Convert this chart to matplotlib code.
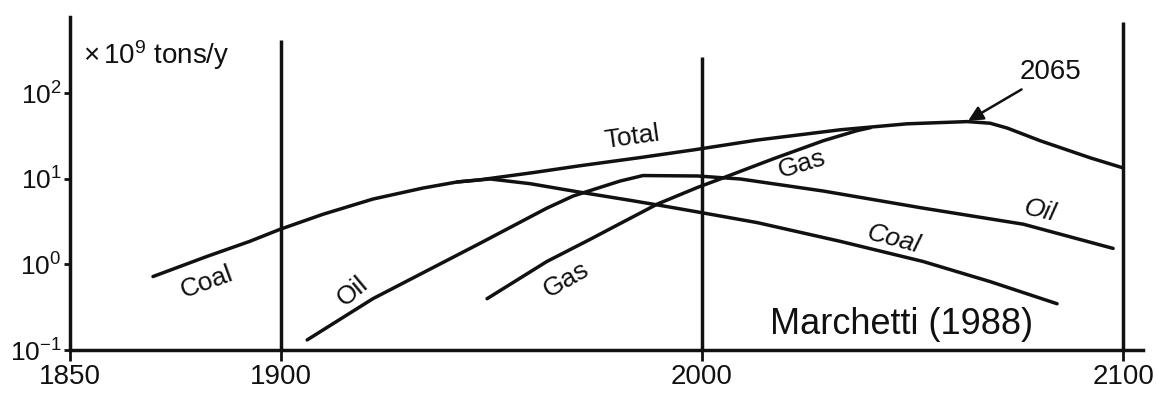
import matplotlib
matplotlib.use("Agg")
import matplotlib.pyplot as plt
import numpy as np

# ---- data (log10 of 10^9 tons/y) ----
coal_years = [1869.7, 1882.5, 1892.7, 1899.9, 1910.1, 1921.9, 1933.8, 1941.9, 1949.7,
              1959.2, 1971.1, 1983.0, 1990.8, 1998.9, 2013.1, 2032.8, 2052.5, 2068.4, 2084.3]
coal_log = [-0.141, 0.094, 0.271, 0.412, 0.588, 0.765, 0.894, 0.965, 1.0,
            0.945, 0.845, 0.75, 0.685, 0.615, 0.49, 0.271, 0.035, -0.20, -0.459]

oil_years = [1906.3, 1921.9, 1947.3, 1963.2, 1969.4, 1973.5, 1980.6, 1986.0, 1998.9,
             2009.1, 2028.8, 2052.5, 2076.3, 2097.6]
oil_log = [-0.882, -0.40, 0.247, 0.659, 0.80, 0.865, 0.976, 1.04, 1.035,
           1.0, 0.859, 0.659, 0.471, 0.188]

gas_years = [1949.0, 1963.2, 1973.5, 1978.9, 1989.4, 1998.9, 2005.0, 2016.9, 2028.8, 2036.8, 2040.0]
gas_log = [-0.40, 0.035, 0.295, 0.435, 0.706, 0.90, 1.012, 1.235, 1.447, 1.565, 1.60]

total_years = [1941.9, 1947.3, 1960.0, 1971.1, 1985.3, 1998.0, 2013.1, 2032.8, 2048.7,
               2063.0, 2068.4, 2072.5, 2080.3, 2092.2, 2100.0]
total_log = [0.965, 0.99, 1.075, 1.155, 1.25, 1.34, 1.455, 1.575, 1.645,
             1.671, 1.652, 1.595, 1.447, 1.247, 1.129]

xticks = [1850, 1900, 2000, 2100]
yticks = [0.1, 1, 10, 100]
ytick_labels = [r"$\mathdefault{10^{-1}}$", r"$\mathdefault{10^{0}}$",
                r"$\mathdefault{10^{1}}$", r"$\mathdefault{10^{2}}$"]
vline_years = [1900, 2000, 2100]
vline_tops = [420, 265, 684]

plt.rcParams['font.family'] = ['Liberation Sans', 'DejaVu Sans']
plt.rcParams['mathtext.fontset'] = 'custom'
plt.rcParams['mathtext.rm'] = 'Liberation Sans'
plt.rcParams['mathtext.it'] = 'Liberation Sans:italic'

fig = plt.figure(figsize=(11.57, 3.95), dpi=100)
ax = fig.add_axes([70/1157, 45/395, 1073/1157, 333/395])
ax.set_yscale('log')
ax.set_xlim(1850, 2104.7)
ax.set_ylim(0.1, 10**((263-17)/85))

lw = 2.5
col = '#111111'
for yrs, lg in [(coal_years, coal_log), (oil_years, oil_log), (gas_years, gas_log), (total_years, total_log)]:
    ax.plot(yrs, 10**np.array(lg), color=col, lw=lw, solid_capstyle='round', solid_joinstyle='round')

for yr, top in zip(vline_years, vline_tops):
    ax.vlines(yr, 0.1, top, color=col, lw=lw)

for s in ['top', 'right']:
    ax.spines[s].set_visible(False)
for s in ['left', 'bottom']:
    ax.spines[s].set_linewidth(lw)
    ax.spines[s].set_color(col)

ax.set_xticks(xticks)
ax.set_xticklabels([str(x) for x in xticks], fontsize=20)
ax.set_yticks(yticks)
ax.set_yticklabels(ytick_labels, fontsize=19)
ax.yaxis.set_minor_locator(matplotlib.ticker.NullLocator())
ax.tick_params(axis='x', length=8, width=2, direction='out', pad=2, colors=col)
ax.tick_params(axis='y', length=4, width=2, direction='out', pad=2, colors=col)

# labels
ax.text(1853, 280, r"$\times\,\mathdefault{10}^{\mathdefault{9}}$ tons/y", fontsize=20,
        ha='left', va='center', color=col)
tk = dict(fontsize=19, ha='center', va='center', color=col)
ax.text(1882.5, 0.63, "Coal", rotation=20, **tk)
ax.text(1917.2, 0.48, "Oil", rotation=40, **tk)
ax.text(1967.8, 0.67, "Gas", rotation=30, **tk)
ax.text(1983.4, 31, "Total", rotation=8, **tk)
ax.text(2023.8, 15, "Gas", rotation=17, **tk)
ax.text(2080.3, 4.2, "Oil", rotation=-13, style='italic', **tk)
ax.text(2045.4, 2.0, "Coal", rotation=-15, style='italic', **tk)
ax.text(2047.5, 0.20, "Marchetti (1988)", fontsize=26, ha='center', va='center', color=col)
ax.annotate("2065", xy=(2063.2, 48), xytext=(2075.5, 177), fontsize=20,
            ha='left', va='center', color=col,
            arrowprops=dict(arrowstyle='-|>', color=col, lw=1.8, mutation_scale=22,
                            shrinkA=2, shrinkB=0))

fig.savefig("out.png", dpi=100)
